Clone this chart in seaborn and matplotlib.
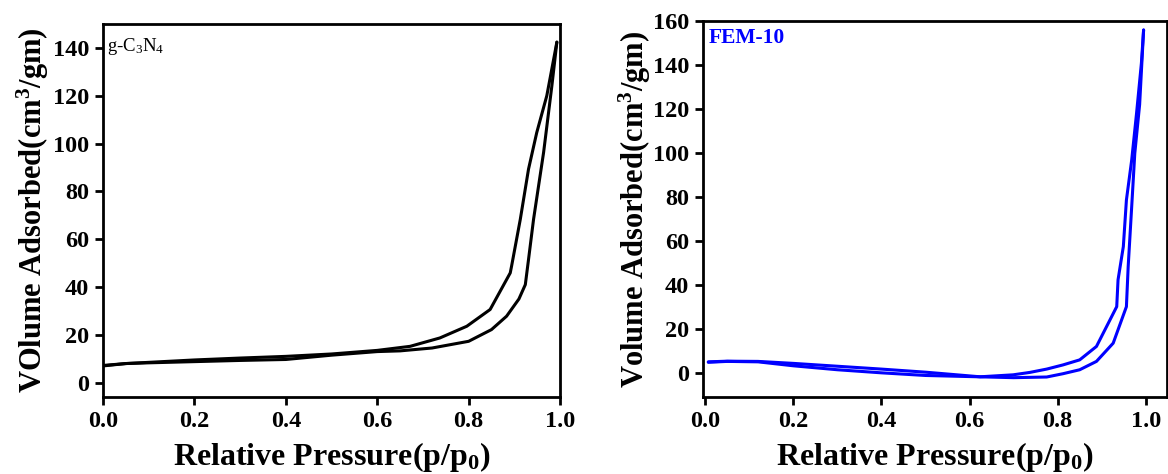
import numpy as np
import pandas as pd
import matplotlib
matplotlib.use("Agg")
import matplotlib.pyplot as plt
import seaborn as sns

# ---- data: g-C3N4 ----
gcn_ads_p = [0.0, 0.05, 0.1, 0.2, 0.3, 0.4, 0.5, 0.6, 0.65, 0.72, 0.8, 0.85, 0.883, 0.91, 0.924, 0.931, 0.942, 0.964, 0.982, 0.993]
gcn_ads_v = [7.0, 8.0, 8.3, 8.8, 9.3, 9.7, 11.5, 13.0, 13.3, 14.5, 17.3, 22.2, 27.8, 35.0, 41.0, 51.5, 68.3, 96.3, 124.0, 142.4]
gcn_des_p = [0.993, 0.971, 0.949, 0.931, 0.913, 0.894, 0.891, 0.847, 0.796, 0.737, 0.672, 0.6, 0.5, 0.4, 0.3, 0.2, 0.1, 0.05, 0.0]
gcn_des_v = [142.4, 120.0, 104.6, 89.3, 68.3, 48.8, 45.9, 30.6, 23.6, 18.7, 15.2, 13.5, 12.0, 11.0, 10.3, 9.5, 8.5, 8.0, 7.2]

# ---- data: FEM-10 ----
fem_ads_p = [0.007, 0.05, 0.12, 0.2, 0.3, 0.4, 0.5, 0.6, 0.7, 0.775, 0.812, 0.85, 0.888, 0.926, 0.956, 0.96, 0.968, 0.975, 0.986, 0.995]
fem_ads_v = [4.8, 5.2, 5.0, 3.2, 1.4, 0.0, -1.2, -1.7, -2.2, -1.9, -0.4, 1.4, 5.2, 13.5, 30.1, 48.3, 75.6, 99.8, 122.0, 155.9]
fem_des_p = [0.995, 0.99, 0.979, 0.968, 0.956, 0.949, 0.937, 0.934, 0.888, 0.85, 0.812, 0.775, 0.737, 0.699, 0.624, 0.5, 0.4, 0.3, 0.2, 0.12, 0.05, 0.007]
fem_des_v = [155.9, 140.8, 118.0, 96.8, 78.6, 57.4, 42.3, 30.1, 12.0, 5.9, 3.6, 1.7, 0.2, -0.9, -1.8, 0.3, 1.7, 3.0, 4.3, 5.2, 5.3, 5.0]

x_ticks = [0.0, 0.2, 0.4, 0.6, 0.8, 1.0]
y_ticks_left = [0, 20, 40, 60, 80, 100, 120, 140]
y_ticks_right = [0, 20, 40, 60, 80, 100, 120, 140, 160]

sns.set_theme(style="ticks")
plt.rcParams["font.family"] = ["Liberation Serif", "DejaVu Serif"]
plt.rcParams["mathtext.fontset"] = "custom"
plt.rcParams["mathtext.rm"] = "Liberation Serif:bold"
plt.rcParams["mathtext.it"] = "Liberation Serif:bold"
plt.rcParams["mathtext.bf"] = "Liberation Serif:bold"
for k in ["text.color", "axes.labelcolor", "xtick.color", "ytick.color", "axes.edgecolor"]:
    plt.rcParams[k] = "black"

fig = plt.figure(figsize=(11.68, 4.74), dpi=100)
ax1 = fig.add_axes([0.0882, 0.1624, 0.3913, 0.7870])
ax2 = fig.add_axes([0.6019, 0.1624, 0.3972, 0.7933])


def branch_df(p, v, name):
    return pd.DataFrame({"p": p, "v": v, "branch": name})


df1 = pd.concat([branch_df(gcn_ads_p, gcn_ads_v, "ads"), branch_df(gcn_des_p, gcn_des_v, "des")])
df2 = pd.concat([branch_df(fem_ads_p, fem_ads_v, "ads"), branch_df(fem_des_p, fem_des_v, "des")])

for ax, df, col in [(ax1, df1, "black"), (ax2, df2, "#0000ff")]:
    for b in ["ads", "des"]:
        sub = df[df["branch"] == b]
        sns.lineplot(data=sub, x="p", y="v", sort=False, estimator=None,
                     color=col, linewidth=2.2, ax=ax)

ax1.set_xlim(0, 1.0)
ax1.set_ylim(-6, 150)
ax2.set_xlim(-0.005, 1.048)
ax2.set_ylim(-11, 160)
ax1.set_yticks(y_ticks_left)
ax2.set_yticks(y_ticks_right)

for ax in (ax1, ax2):
    ax.set_xticks(x_ticks)
    ax.set_xticklabels([f"{t:.1f}" for t in x_ticks])
    for s in ax.spines.values():
        s.set_linewidth(2.0)
        s.set_color("black")
        s.set_visible(True)
    ax.tick_params(axis="both", which="both", direction="out", length=6, width=2,
                   labelsize=17.5, colors="black", top=False, right=False, pad=4)
    for lab in ax.get_xticklabels() + ax.get_yticklabels():
        lab.set_fontweight("bold")
    ax.set_xlabel("Relative Pressure(p/p$_0$)", fontsize=23, fontweight="bold",
                  labelpad=6, color="black")

ax1.set_ylabel("VOlume Adsorbed(cm$^3$/gm)", fontsize=22, fontweight="bold",
               labelpad=1, color="black")
ax2.set_ylabel("Volume Adsorbed(cm$^3$/gm)", fontsize=22, fontweight="bold",
               labelpad=0, color="black")

ax1.text(0.008, 0.94, "g-C$_{\\mathregular{3}}$N$_{\\mathregular{4}}$", transform=ax1.transAxes,
         fontsize=13.5, color="black", va="center", ha="left")
ax2.text(0.012, 0.955, "FEM-10", transform=ax2.transAxes,
         fontsize=15.5, fontweight="bold", color="#0000ff", va="center", ha="left")

fig.savefig("out.png", dpi=100, facecolor="white")
